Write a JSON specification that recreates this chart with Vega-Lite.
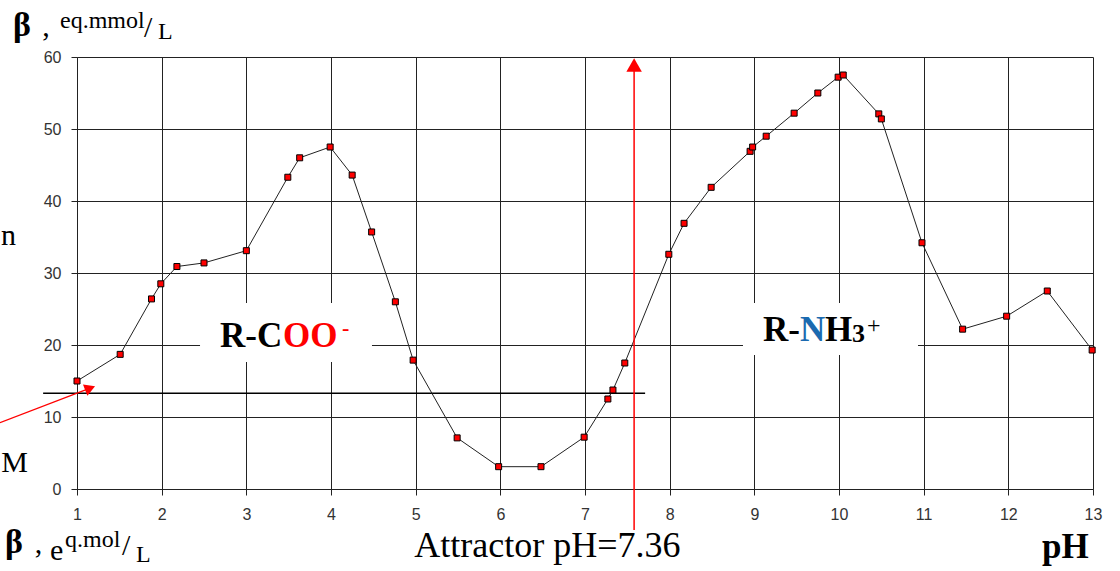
{
  "$schema": "https://vega.github.io/schema/vega-lite/v6.json",
  "autosize": {"type": "none"},
  "padding": {"left": 77, "top": 57, "right": 27, "bottom": 82},
  "width": 1016,
  "height": 432,
  "background": "white",
  "view": {"stroke": null},
  "config": {
    "axis": {
      "grid": true, "gridColor": "#222", "gridOpacity": 1, "gridWidth": 1,
      "domainColor": "#222", "tickColor": "#222", "tickSize": 6,
      "labelFont": "Liberation Sans", "labelFontSize": 16, "labelColor": "#333",
      "labelFlush": false, "labelOverlap": false, "title": null, "format": "d"
    },
    "text": {"font": "Liberation Serif", "color": "black", "align": "left", "baseline": "alphabetic"}
  },
  "datasets": {
    "curve": [
      {"pH": 1.0, "beta": 15.0}, {"pH": 1.51, "beta": 18.7}, {"pH": 1.88, "beta": 26.4},
      {"pH": 1.99, "beta": 28.5}, {"pH": 2.18, "beta": 30.9}, {"pH": 2.5, "beta": 31.4},
      {"pH": 3.0, "beta": 33.1}, {"pH": 3.49, "beta": 43.3}, {"pH": 3.63, "beta": 46.0},
      {"pH": 3.99, "beta": 47.5}, {"pH": 4.25, "beta": 43.6}, {"pH": 4.48, "beta": 35.7},
      {"pH": 4.76, "beta": 26.0}, {"pH": 4.97, "beta": 17.9}, {"pH": 5.49, "beta": 7.1},
      {"pH": 5.98, "beta": 3.1}, {"pH": 6.48, "beta": 3.1}, {"pH": 6.99, "beta": 7.2},
      {"pH": 7.27, "beta": 12.5}, {"pH": 7.33, "beta": 13.75}, {"pH": 7.47, "beta": 17.5},
      {"pH": 7.99, "beta": 32.6}, {"pH": 8.17, "beta": 36.9}, {"pH": 8.49, "beta": 41.9},
      {"pH": 8.95, "beta": 46.9}, {"pH": 8.98, "beta": 47.5}, {"pH": 9.14, "beta": 49.0},
      {"pH": 9.47, "beta": 52.2}, {"pH": 9.75, "beta": 55.0}, {"pH": 9.99, "beta": 57.2},
      {"pH": 10.05, "beta": 57.5}, {"pH": 10.47, "beta": 52.1}, {"pH": 10.5, "beta": 51.4},
      {"pH": 10.98, "beta": 34.2}, {"pH": 11.46, "beta": 22.2}, {"pH": 11.98, "beta": 24.0},
      {"pH": 12.46, "beta": 27.5}, {"pH": 12.99, "beta": 19.3}
    ],
    "boxes": [
      {"x": 2.453, "x2": 4.484, "y": 25.83, "y2": 17.64},
      {"x": 8.866, "x2": 10.933, "y": 25.83, "y2": 18.61}
    ],
    "hline": [{"x": 0.6, "x2": 7.71, "y": 13.3}],
    "vline": [{"x": 7.58, "y": -5.7, "y2": 58.9}],
    "vhead": [{"x": 7.58, "y": 58.9}],
    "dline": [{"x": 0.09, "y": 9.2, "x2": 1.155, "y2": 14.0}],
    "dhead": [{"x": 1.155, "y": 14.0}],
    "bigBold": [
      {"x": 2.689, "y": 19.72, "t": "R-C"},
      {"x": 9.102, "y": 20.56, "t": "R-"},
      {"x": 9.834, "y": 20.56, "t": "H"},
      {"x": 12.397, "y": -9.58, "t": "pH"}
    ],
    "bigRed": [{"x": 3.433, "y": 19.72, "t": "OO"}],
    "supRed": [{"x": 4.13, "y": 21.4, "t": "-"}],
    "bigBlue": [{"x": 9.539, "y": 20.56, "t": "N"}],
    "sub3": [{"x": 10.153, "y": 20.42, "t": "3"}],
    "supPlus": [{"x": 10.33, "y": 21.67, "t": "+"}],
    "attractor": [{"x": 6.557, "y": -9.44, "t": "Attractor pH=7.36"}],
    "cut": [
      {"x": 0.28, "y": 33.9, "t": "n"},
      {"x": 0.42, "y": 2.36, "t": "M"}
    ],
    "betaSym": [
      {"x": 0.244, "y": 62.92, "t": "β"},
      {"x": 0.15, "y": -8.89, "t": "β"}
    ],
    "reg30": [
      {"x": 0.59, "y": 62.92, "t": ","},
      {"x": 1.791, "y": 62.78, "t": "/"},
      {"x": 0.5, "y": -8.89, "t": ","},
      {"x": 0.681, "y": -9.86, "t": "e"},
      {"x": 1.531, "y": -9.17, "t": "/"}
    ],
    "reg24": [
      {"x": 0.799, "y": 64.03, "t": "eq.mmol"},
      {"x": 1.957, "y": 62.5, "t": "L"},
      {"x": 0.858, "y": -8.06, "t": "q.mol"},
      {"x": 1.697, "y": -10.14, "t": "L"}
    ]
  },
  "layer": [
    {
      "data": {"name": "boxes"},
      "mark": {"type": "rect", "color": "white"},
      "encoding": {
        "x": {"field": "x", "type": "quantitative", "scale": {"domain": [1, 13], "nice": false, "zero": false},
              "axis": {"values": [1,2,3,4,5,6,7,8,9,10,11,12,13], "labelPadding": 11}},
        "x2": {"field": "x2"},
        "y": {"field": "y", "type": "quantitative", "scale": {"domain": [0, 60], "nice": false},
              "axis": {"values": [0,10,20,30,40,50,60], "labelPadding": 10}},
        "y2": {"field": "y2"}
      }
    },
    {
      "data": {"name": "hline"},
      "mark": {"type": "rule", "color": "black", "strokeWidth": 1.6},
      "encoding": {
        "x": {"field": "x", "type": "quantitative"}, "x2": {"field": "x2"},
        "y": {"field": "y", "type": "quantitative"}
      }
    },
    {
      "data": {"name": "curve"},
      "mark": {"type": "line", "color": "#222", "strokeWidth": 1},
      "encoding": {
        "x": {"field": "pH", "type": "quantitative"},
        "y": {"field": "beta", "type": "quantitative"}
      }
    },
    {
      "data": {"name": "curve"},
      "mark": {"type": "point", "shape": "square", "filled": true, "fill": "#FF0000", "stroke": "black", "strokeWidth": 1, "size": 36, "opacity": 1},
      "encoding": {
        "x": {"field": "pH", "type": "quantitative"},
        "y": {"field": "beta", "type": "quantitative"}
      }
    },
    {
      "data": {"name": "vline"},
      "mark": {"type": "rule", "color": "#FF0000", "strokeWidth": 1.5},
      "encoding": {
        "x": {"field": "x", "type": "quantitative"},
        "y": {"field": "y", "type": "quantitative"}, "y2": {"field": "y2"}
      }
    },
    {
      "data": {"name": "vhead"},
      "mark": {"type": "point", "shape": "triangle-up", "filled": true, "color": "#FF0000", "size": 240, "opacity": 1},
      "encoding": {
        "x": {"field": "x", "type": "quantitative"},
        "y": {"field": "y", "type": "quantitative"}
      }
    },
    {
      "data": {"name": "dline"},
      "mark": {"type": "rule", "color": "#FF0000", "strokeWidth": 1.3},
      "encoding": {
        "x": {"field": "x", "type": "quantitative"}, "x2": {"field": "x2"},
        "y": {"field": "y", "type": "quantitative"}, "y2": {"field": "y2"}
      }
    },
    {
      "data": {"name": "dhead"},
      "mark": {"type": "point", "shape": "triangle-up", "filled": true, "color": "#FF0000", "size": 150, "angle": 69, "opacity": 1},
      "encoding": {
        "x": {"field": "x", "type": "quantitative"},
        "y": {"field": "y", "type": "quantitative"}
      }
    },
    {
      "data": {"name": "bigBold"},
      "mark": {"type": "text", "fontSize": 35, "fontWeight": "bold"},
      "encoding": {"x": {"field": "x", "type": "quantitative"}, "y": {"field": "y", "type": "quantitative"}, "text": {"field": "t"}}
    },
    {
      "data": {"name": "bigRed"},
      "mark": {"type": "text", "fontSize": 35, "fontWeight": "bold", "color": "#FF0000"},
      "encoding": {"x": {"field": "x", "type": "quantitative"}, "y": {"field": "y", "type": "quantitative"}, "text": {"field": "t"}}
    },
    {
      "data": {"name": "supRed"},
      "mark": {"type": "text", "fontSize": 22, "fontWeight": "bold", "color": "#FF0000"},
      "encoding": {"x": {"field": "x", "type": "quantitative"}, "y": {"field": "y", "type": "quantitative"}, "text": {"field": "t"}}
    },
    {
      "data": {"name": "bigBlue"},
      "mark": {"type": "text", "fontSize": 35, "fontWeight": "bold", "color": "#1B6AB0"},
      "encoding": {"x": {"field": "x", "type": "quantitative"}, "y": {"field": "y", "type": "quantitative"}, "text": {"field": "t"}}
    },
    {
      "data": {"name": "sub3"},
      "mark": {"type": "text", "fontSize": 26, "fontWeight": "bold"},
      "encoding": {"x": {"field": "x", "type": "quantitative"}, "y": {"field": "y", "type": "quantitative"}, "text": {"field": "t"}}
    },
    {
      "data": {"name": "supPlus"},
      "mark": {"type": "text", "fontSize": 24},
      "encoding": {"x": {"field": "x", "type": "quantitative"}, "y": {"field": "y", "type": "quantitative"}, "text": {"field": "t"}}
    },
    {
      "data": {"name": "attractor"},
      "mark": {"type": "text", "fontSize": 36, "align": "center"},
      "encoding": {"x": {"field": "x", "type": "quantitative"}, "y": {"field": "y", "type": "quantitative"}, "text": {"field": "t"}}
    },
    {
      "data": {"name": "cut"},
      "mark": {"type": "text", "fontSize": 30, "align": "right"},
      "encoding": {"x": {"field": "x", "type": "quantitative"}, "y": {"field": "y", "type": "quantitative"}, "text": {"field": "t"}}
    },
    {
      "data": {"name": "betaSym"},
      "mark": {"type": "text", "fontSize": 34, "fontWeight": "bold"},
      "encoding": {"x": {"field": "x", "type": "quantitative"}, "y": {"field": "y", "type": "quantitative"}, "text": {"field": "t"}}
    },
    {
      "data": {"name": "reg30"},
      "mark": {"type": "text", "fontSize": 30},
      "encoding": {"x": {"field": "x", "type": "quantitative"}, "y": {"field": "y", "type": "quantitative"}, "text": {"field": "t"}}
    },
    {
      "data": {"name": "reg24"},
      "mark": {"type": "text", "fontSize": 24},
      "encoding": {"x": {"field": "x", "type": "quantitative"}, "y": {"field": "y", "type": "quantitative"}, "text": {"field": "t"}}
    }
  ]
}
